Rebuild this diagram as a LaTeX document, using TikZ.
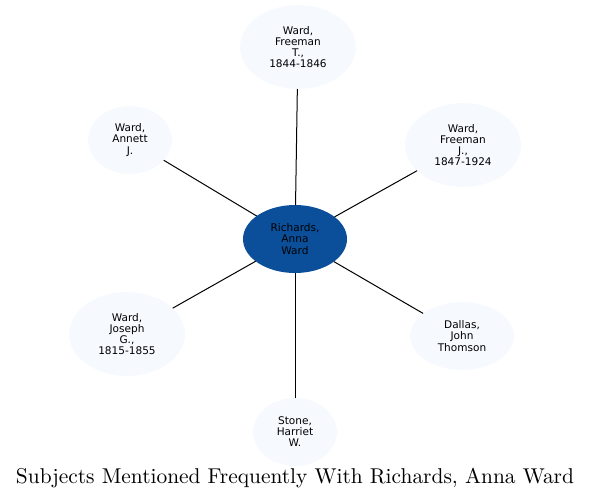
\documentclass[tikz,border=0pt]{standalone}
\usepackage{fontspec}
\newfontfamily\nodefont{DejaVu Sans}
\usetikzlibrary{shapes.geometric}
\definecolor{centerblue}{HTML}{0B4F9A}
\definecolor{paleblue}{HTML}{F6FAFF}
\tikzset{
  subj/.style={ellipse, fill=paleblue, draw=none, inner sep=0pt, outer sep=0pt,
    align=center, font=\nodefont\fontsize{7.9}{8.3}\selectfont},
  big/.style={subj, minimum width=87pt, minimum height=63pt},
  mid/.style={subj, minimum width=78pt, minimum height=51pt},
  small/.style={subj, minimum width=63pt, minimum height=51pt},
  focus/.style={mid, fill=centerblue},
  link/.style={draw=black, line width=0.75pt}
}
\begin{document}
\begin{tikzpicture}[x=0.75pt,y=-0.75pt]
\useasboundingbox (0,0) rectangle (591,501);
\node[focus] (c) at (295,239) {Richards,\\Anna\\Ward};
\node[big] (ft) at (298,47) {Ward,\\Freeman\\T.,\\1844-1846};
\node[small] (an) at (130,140) {Ward,\\Annett\\J.};
\node[big] (fj) at (463,145) {Ward,\\Freeman\\J.,\\1847-1924};
\node[big] (jo) at (127,334) {Ward,\\Joseph\\G.,\\1815-1855};
\node[mid] (da) at (462,336) {Dallas,\\John\\Thomson};
\node[small] (st) at (295,432) {Stone,\\Harriet\\W.};
\draw[link] (ft) -- (c);
\draw[link] (an) -- (c);
\draw[link] (fj) -- (c);
\draw[link] (jo) -- (c);
\draw[link] (da) -- (c);
\draw[link] (st) -- (c);
\node[inner sep=0pt] (title) at (295,478) {\resizebox{418.5pt}{!}{\fontsize{10}{12}\selectfont Subjects Mentioned Frequently With Richards, Anna Ward}};
\end{tikzpicture}
\end{document}
